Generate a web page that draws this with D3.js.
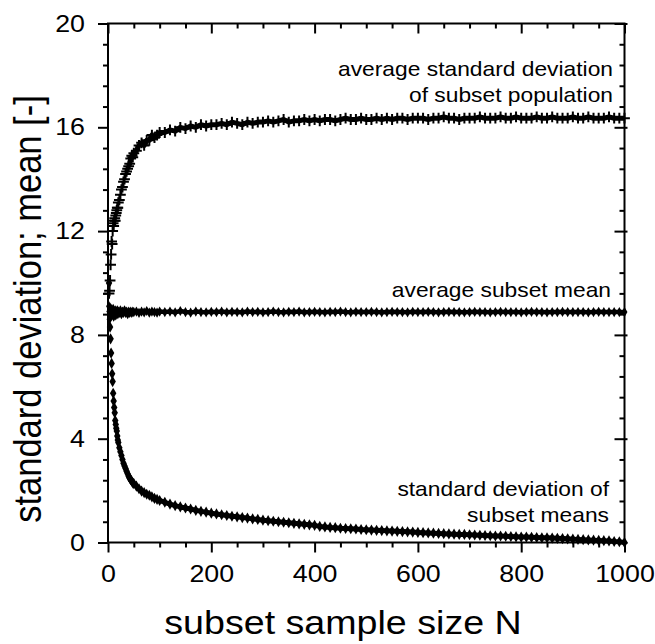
<!DOCTYPE html>
<html>
<head>
<meta charset="utf-8">
<script src="https://cdn.jsdelivr.net/npm/d3@7"></script>
<style>
  body { margin: 0; background: #fff; }
  svg { display: block; font-family: "Liberation Sans", Arial, sans-serif; }
</style>
</head>
<body>
<svg id="chart"></svg>
<script>
// subset sample size N (x values shared by all three series)
const sampleSizes = [
  2, 3, 4, 5, 6, 7, 8, 9, 10, 11, 12, 13, 14, 15, 16, 17, 18, 19, 20,
  22, 24, 26, 28, 30, 32, 34, 36, 38, 40, 42, 44, 46, 48, 50,
  55, 60, 65, 70, 75, 80, 85, 90, 95, 100,
  110, 120, 130, 140, 150, 160, 170, 180, 190, 200,
  210, 220, 230, 240, 250, 260, 270, 280, 290, 300,
  310, 320, 330, 340, 350, 360, 370, 380, 390, 400,
  410, 420, 430, 440, 450, 460, 470, 480, 490, 500,
  510, 520, 530, 540, 550, 560, 570, 580, 590, 600,
  610, 620, 630, 640, 650, 660, 670, 680, 690, 700,
  710, 720, 730, 740, 750, 760, 770, 780, 790, 800,
  810, 820, 830, 840, 850, 860, 870, 880, 890, 900,
  910, 920, 930, 940, 950, 960, 970, 980, 990, 1000
];

// average standard deviation of subset population
const avgStdDev = [
  9.6, 9.7, 10.1, 10.7, 11.1, 11.6, 11.5, 12.0, 12.3, 12.2, 12.4, 12.5, 12.4, 12.6, 12.7, 12.8, 12.9, 12.9, 13.1,
  13.2, 13.4, 13.6, 13.7, 13.9, 14.0, 14.2, 14.3, 14.4, 14.5, 14.6, 14.8, 14.9, 14.85, 15.0,
  15.1, 15.3, 15.4, 15.3, 15.5, 15.5, 15.7, 15.6, 15.7, 15.8,
  15.8, 15.9, 15.85, 16.0, 15.95, 16.05, 16.0, 16.1, 16.05, 16.1,
  16.1, 16.15, 16.1, 16.2, 16.15, 16.1, 16.2, 16.15, 16.2, 16.2,
  16.25, 16.2, 16.25, 16.3, 16.2, 16.25, 16.25, 16.3, 16.25, 16.3,
  16.25, 16.3, 16.3, 16.25, 16.3, 16.35, 16.3, 16.3, 16.35, 16.3,
  16.3, 16.35, 16.3, 16.35, 16.3, 16.35, 16.35, 16.3, 16.35, 16.35,
  16.35, 16.3, 16.35, 16.35, 16.4, 16.35, 16.35, 16.3, 16.35, 16.35,
  16.35, 16.4, 16.35, 16.35, 16.35, 16.4, 16.35, 16.35, 16.4, 16.35,
  16.35, 16.35, 16.4, 16.35, 16.35, 16.4, 16.35, 16.35, 16.35, 16.4,
  16.35, 16.35, 16.4, 16.35, 16.35, 16.35, 16.4, 16.35, 16.35, 16.35
];

// average subset mean
const avgMean = [
  9.1, 8.6, 9.05, 8.7, 9.0, 8.75, 8.95, 8.8, 9.0, 8.7, 8.9, 8.8, 8.95, 8.75, 8.9, 8.85, 8.95, 8.8, 8.9,
  8.85, 8.95, 8.8, 8.9, 8.85, 8.95, 8.85, 8.9, 8.8, 8.9, 8.85, 8.9, 8.85, 8.9, 8.88,
  8.9, 8.85, 8.9, 8.87, 8.92, 8.86, 8.9, 8.88, 8.86, 8.9,
  8.88, 8.9, 8.87, 8.92, 8.88, 8.86, 8.9, 8.88, 8.87, 8.89,
  8.88, 8.9, 8.87, 8.89, 8.88, 8.87, 8.9, 8.88, 8.89, 8.87,
  8.88, 8.9, 8.88, 8.87, 8.89, 8.88, 8.9, 8.87, 8.88, 8.89,
  8.88, 8.87, 8.89, 8.88, 8.9, 8.88, 8.87, 8.89, 8.88, 8.88,
  8.89, 8.88, 8.87, 8.88, 8.89, 8.88, 8.88, 8.87, 8.89, 8.88,
  8.88, 8.89, 8.88, 8.87, 8.88, 8.89, 8.88, 8.88, 8.87, 8.88,
  8.89, 8.88, 8.88, 8.87, 8.88, 8.89, 8.88, 8.88, 8.88, 8.87,
  8.88, 8.89, 8.88, 8.88, 8.87, 8.88, 8.88, 8.89, 8.88, 8.88,
  8.88, 8.88, 8.87, 8.88, 8.89, 8.88, 8.88, 8.88, 8.88, 8.88
];

// standard deviation of subset means
const sdOfMeans = [
  10.0, 8.9, 8.3, 7.85, 7.3, 6.9, 6.5, 6.2, 5.75, 5.45, 5.2, 5.0, 4.7, 4.55, 4.4, 4.3, 4.1, 3.95, 3.85,
  3.65, 3.5, 3.35, 3.2, 3.05, 2.95, 2.85, 2.75, 2.65, 2.55, 2.48, 2.42, 2.36, 2.3, 2.27,
  2.17, 2.07, 1.98, 1.92, 1.86, 1.82, 1.76, 1.7, 1.66, 1.62,
  1.55, 1.48, 1.42, 1.37, 1.33, 1.29, 1.24, 1.2, 1.17, 1.13,
  1.1, 1.07, 1.04, 1.01, 0.99, 0.96, 0.94, 0.91, 0.89, 0.86,
  0.84, 0.82, 0.8, 0.78, 0.76, 0.74, 0.72, 0.7, 0.68, 0.66,
  0.62, 0.6, 0.58, 0.57, 0.55, 0.54, 0.53, 0.52, 0.5, 0.49,
  0.48, 0.47, 0.46, 0.45, 0.44, 0.43, 0.42, 0.41, 0.4, 0.39,
  0.38, 0.37, 0.36, 0.35, 0.34, 0.33, 0.32, 0.31, 0.31, 0.3,
  0.29, 0.28, 0.27, 0.26, 0.25, 0.25, 0.24, 0.23, 0.22, 0.21,
  0.21, 0.2, 0.19, 0.18, 0.18, 0.17, 0.16, 0.15, 0.14, 0.13,
  0.12, 0.11, 0.1, 0.09, 0.08, 0.07, 0.06, 0.04, 0.03, 0.0
];

const xTicks = [0, 200, 400, 600, 800, 1000];
const yTicks = [0, 4, 8, 12, 16, 20];

const xTitle = 'subset sample size N';
const yTitle = 'standard deviation; mean [-]';

// the original picture has slightly wide lettering
const SX = 1.14;

function stretch(sel, ax) {
    sel.attr('transform', function() {
        const a = ax !== undefined ? ax : (+d3.select(this).attr('x') || 0);
        return `translate(${a},0) scale(${SX},1) translate(${-a},0)`;
    });
}

class SubsetPlot {

    constructor(config) {
        this.config = {
            parent: config.parent,
            width: config.width || 655,
            height: config.height || 644,
            margin: config.margin || {top: 23.5, right: 30.5, bottom: 101.5, left: 108}
        };
        this.init();
    }

    init() {
        let self = this;

        self.svg = d3.select(self.config.parent)
            .attr('width', self.config.width)
            .attr('height', self.config.height);

        self.chart = self.svg.append('g')
            .attr('transform', `translate(${self.config.margin.left}, ${self.config.margin.top})`);

        self.inner_width = self.config.width - self.config.margin.left - self.config.margin.right;
        self.inner_height = self.config.height - self.config.margin.top - self.config.margin.bottom;

        self.xscale = d3.scaleLinear().domain([0, 1000]).range([0, self.inner_width]);
        self.yscale = d3.scaleLinear().domain([0, 20]).range([self.inner_height, 0]);
    }

    render() {
        let self = this;
        const W = self.inner_width, H = self.inner_height;

        const xMinor = d3.range(0, 1001, 50).filter(v => v % 200 !== 0);
        const yMinor = d3.range(0, 20.01, 0.8).map(v => +v.toFixed(1)).filter(v => Math.abs(v / 4 - Math.round(v / 4)) > 1e-6);

        // axes: left/bottom ticks outward, top/right ticks inward
        const axes = [
            {gen: d3.axisBottom(self.xscale).tickValues(xTicks).tickSize(10).tickPadding(13).tickFormat(d3.format('d')), at: `translate(0,${H})`, labels: true},
            {gen: d3.axisBottom(self.xscale).tickValues(xMinor).tickSize(5).tickFormat(''), at: `translate(0,${H})`},
            {gen: d3.axisLeft(self.yscale).tickValues(yTicks).tickSize(10).tickPadding(13).tickFormat(d3.format('d')), at: 'translate(0,0)', labels: true},
            {gen: d3.axisLeft(self.yscale).tickValues(yMinor).tickSize(5).tickFormat(''), at: 'translate(0,0)'},
            {gen: d3.axisBottom(self.xscale).tickValues(xTicks).tickSize(10).tickFormat(''), at: 'translate(0,0)'},
            {gen: d3.axisBottom(self.xscale).tickValues(xMinor).tickSize(5).tickFormat(''), at: 'translate(0,0)'},
            {gen: d3.axisLeft(self.yscale).tickValues(yTicks).tickSize(10).tickFormat(''), at: `translate(${W},0)`},
            {gen: d3.axisLeft(self.yscale).tickValues(yMinor).tickSize(5).tickFormat(''), at: `translate(${W},0)`},
            {gen: d3.axisRight(self.yscale).tickValues(yTicks).tickSize(3).tickFormat(''), at: `translate(${W},0)`}
        ];

        axes.forEach(a => {
            const g = self.chart.append('g').attr('transform', a.at).call(a.gen);
            g.select('.domain').remove();
            g.selectAll('line').attr('stroke', '#000').attr('stroke-width', 2);
            if (a.labels) {
                const t = g.selectAll('text')
                    .attr('fill', '#000')
                    .style('font-size', '23.5px')
                    .style('font-family', '"Liberation Sans", Arial, sans-serif');
                stretch(t);
            }
        });

        // frame
        self.chart.append('rect')
            .attr('x', 0).attr('y', 0)
            .attr('width', W).attr('height', H)
            .attr('fill', 'none')
            .attr('stroke', '#000')
            .attr('stroke-width', 2);

        const rows = sampleSizes.map((n, i) => ({n: n, sd: avgStdDev[i], mean: avgMean[i], sdm: sdOfMeans[i]}));
        const bandRows = rows.filter(d => d.n >= 40);

        // dense marker band, drawn as a thick line through the read values
        const bands = [
            {key: 'sd', width: 5},
            {key: 'mean', width: 4.5},
            {key: 'sdm', width: 5}
        ];
        bands.forEach(b => {
            self.chart.append('path')
                .datum(bandRows)
                .attr('d', d3.line().x(d => self.xscale(d.n)).y(d => self.yscale(d[b.key])))
                .attr('fill', 'none')
                .attr('stroke', '#000')
                .attr('stroke-width', b.width)
                .attr('stroke-linejoin', 'round');
        });

        // plus markers: average standard deviation of subset population
        self.chart.append('g').selectAll('path')
            .data(rows)
            .join('path')
            .attr('d', d3.symbol().type(d3.symbolPlus).size(40))
            .attr('transform', d => `translate(${self.xscale(d.n)},${self.yscale(d.sd)})`)
            .attr('fill', 'none')
            .attr('stroke', '#000')
            .attr('stroke-width', 2);

        // average subset mean
        self.chart.append('g').selectAll('path')
            .data(rows)
            .join('path')
            .attr('d', d3.symbol().type(d3.symbolDiamond).size(30))
            .attr('transform', d => `translate(${self.xscale(d.n)},${self.yscale(d.mean)})`)
            .attr('fill', '#000');

        // standard deviation of subset means
        self.chart.append('g').selectAll('path')
            .data(rows)
            .join('path')
            .attr('d', d3.symbol().type(d3.symbolDiamond).size(36))
            .attr('transform', d => `translate(${self.xscale(d.n)},${self.yscale(d.sdm)})`)
            .attr('fill', '#000');

        // series annotations
        const notes = [
            {lines: ['average standard deviation', 'of subset population'], x: 505, y: 53},
            {lines: ['average subset mean'], x: 503, y: 274},
            {lines: ['standard deviation of', 'subset means'], x: 501, y: 473}
        ];
        notes.forEach(nt => {
            const t = self.chart.append('text')
                .attr('text-anchor', 'end')
                .attr('fill', '#000')
                .style('font-size', '20px');
            nt.lines.forEach((s, i) => {
                t.append('tspan').attr('x', nt.x).attr('y', nt.y + i * 26).text(s);
            });
            stretch(t, nt.x);
        });

        // axis titles
        const xt = self.svg.append('text')
            .attr('x', 343)
            .attr('y', 634)
            .attr('text-anchor', 'middle')
            .attr('fill', '#000')
            .style('font-size', '33px')
            .text(xTitle);
        stretch(xt, 343);

        self.svg.append('text')
            .attr('transform', `translate(41,309) scale(${SX},1) rotate(-90)`)
            .attr('text-anchor', 'middle')
            .attr('fill', '#000')
            .style('font-size', '34.5px')
            .text(yTitle);
    }
}

const plot = new SubsetPlot({parent: '#chart', width: 655, height: 644});
plot.render();
</script>
</body>
</html>
